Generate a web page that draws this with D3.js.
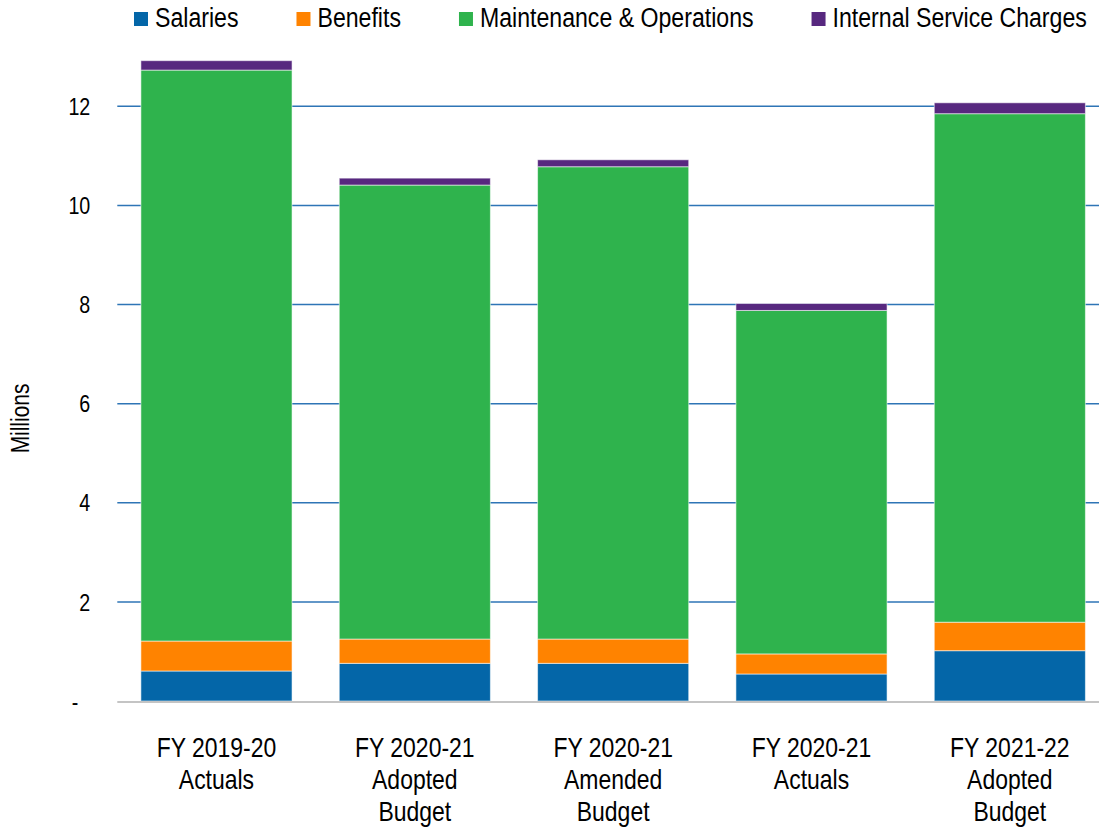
<!DOCTYPE html>
<html>
<head>
<meta charset="utf-8">
<script src="https://cdn.jsdelivr.net/npm/d3@7"></script>
<style>
  body {
    margin: 0;
    background: #ffffff;
  }

  svg {
    display: block;
    font-family: "Liberation Sans", Arial, sans-serif;
    fill: #000000;
  }

  .grid line {
    stroke: #2e75b6;
    stroke-width: 1.5;
  }

  .baseline {
    stroke: #c4c4c4;
    stroke-width: 2;
  }

  .bar {
    stroke: rgba(255, 255, 255, 0.55);
    stroke-width: 1;
  }
</style>
</head>
<body>
<svg id="chart" width="1099" height="829"></svg>
<script>
// Categories (one line per entry)
const categories = [
  ['FY 2019-20', 'Actuals'],
  ['FY 2020-21', 'Adopted', 'Budget'],
  ['FY 2020-21', 'Amended', 'Budget'],
  ['FY 2020-21', 'Actuals'],
  ['FY 2021-22', 'Adopted', 'Budget'],
];

// Series values, millions
const salaries = [0.605, 0.76, 0.76, 0.545, 1.015];
const benefits = [0.605, 0.49, 0.49, 0.405, 0.575];
const maintenance = [11.52, 9.16, 9.53, 6.93, 10.26];
const internalService = [0.19, 0.14, 0.14, 0.14, 0.22];

const seriesNames = ['Salaries', 'Benefits', 'Maintenance & Operations', 'Internal Service Charges'];
const seriesColors = ['#0466a8', '#ff8300', '#2fb34d', '#57287f'];

const yTicks = [0, 2, 4, 6, 8, 10, 12];

const width = 1099;
const height = 829;
const margin = {top: 56.7, right: -10, bottom: 128, left: 117.3};
const narrow = 0.82; // squeeze to look like a narrow face

const svg = d3.select('#chart');

const table = categories.map((cat, i) => {
  return {
    key: i,
    Salaries: salaries[i],
    Benefits: benefits[i],
    'Maintenance & Operations': maintenance[i],
    'Internal Service Charges': internalService[i],
  };
});

const stacked = d3.stack().keys(seriesNames)(table);

const x = d3.scaleBand()
  .domain(categories.map((d, i) => i))
  .range([margin.left, width - margin.right])
  .paddingInner(0.238)
  .paddingOuter(0.119);

const y = d3.scaleLinear()
  .domain([0, 13])
  .range([height - margin.bottom, margin.top]);

const color = d3.scaleOrdinal()
  .domain(seriesNames)
  .range(seriesColors);

// Gridlines
svg.append('g')
  .classed('grid', true)
  .selectAll('line')
  .data(yTicks.filter((t) => { return t > 0; }))
  .join('line')
  .attr('x1', margin.left)
  .attr('x2', width)
  .attr('y1', (d) => { return y(d); })
  .attr('y2', (d) => { return y(d); });

// Y axis labels
const yAxis = svg.append('g')
  .attr('transform', `translate(${margin.left - 27},0)`)
  .call(d3.axisLeft(y)
    .tickValues(yTicks)
    .tickSize(0)
    .tickPadding(0)
    .tickFormat((d) => { return d === 0 ? '-' : d3.format('d')(d); }));
yAxis.select('.domain').remove();
yAxis.attr('font-family', null).attr('font-size', null);
yAxis.selectAll('text')
  .attr('font-size', 24)
  .attr('fill', '#000')
  .attr('x', 0)
  .attr('dy', '0.34em')
  .attr('transform', (d) => { return `translate(${d === 0 ? -12 : 0},0) scale(${narrow},1)`; });

// Y axis title
svg.append('text')
  .attr('transform', `translate(29,${y(5.7)}) rotate(-90) scale(${narrow},1)`)
  .attr('text-anchor', 'middle')
  .attr('font-size', 25.5)
  .text('Millions');

// Bars
svg.append('g')
  .selectAll('g')
  .data(stacked)
  .join('g')
  .attr('fill', (d) => { return color(d.key); })
  .selectAll('rect')
  .data((d) => { return d; })
  .join('rect')
  .classed('bar', true)
  .attr('x', (d) => { return x(d.data.key); })
  .attr('width', x.bandwidth())
  .attr('y', (d) => { return y(d[1]); })
  .attr('height', (d) => { return y(d[0]) - y(d[1]); });

// Baseline
svg.append('line')
  .classed('baseline', true)
  .attr('x1', margin.left)
  .attr('x2', width)
  .attr('y1', y(0) + 1)
  .attr('y2', y(0) + 1);

// X axis labels
const xLabels = svg.append('g')
  .selectAll('text')
  .data(categories)
  .join('text')
  .attr('text-anchor', 'middle')
  .attr('font-size', 28)
  .attr('transform', (d, i) => { return `translate(${x(i) + x.bandwidth() / 2},757) scale(${narrow},1)`; });
xLabels.selectAll('tspan')
  .data((d) => { return d; })
  .join('tspan')
  .attr('x', 0)
  .attr('dy', (d, i) => { return i === 0 ? 0 : 32; })
  .text((d) => { return d; });

// Legend
const legend = svg.append('g')
  .attr('transform', 'translate(134,0)');
let legendX = 0;
seriesNames.forEach((name) => {
  const item = legend.append('g')
    .attr('transform', `translate(${legendX},0)`);
  item.append('rect')
    .attr('x', 0)
    .attr('y', 12)
    .attr('width', 14)
    .attr('height', 14)
    .attr('fill', color(name));
  const label = item.append('text')
    .attr('transform', `translate(21,27) scale(${narrow},1)`)
    .attr('font-size', 28.2)
    .text(name);
  legendX += 21 + label.node().getComputedTextLength() * narrow + 58;
});
</script>
</body>
</html>
